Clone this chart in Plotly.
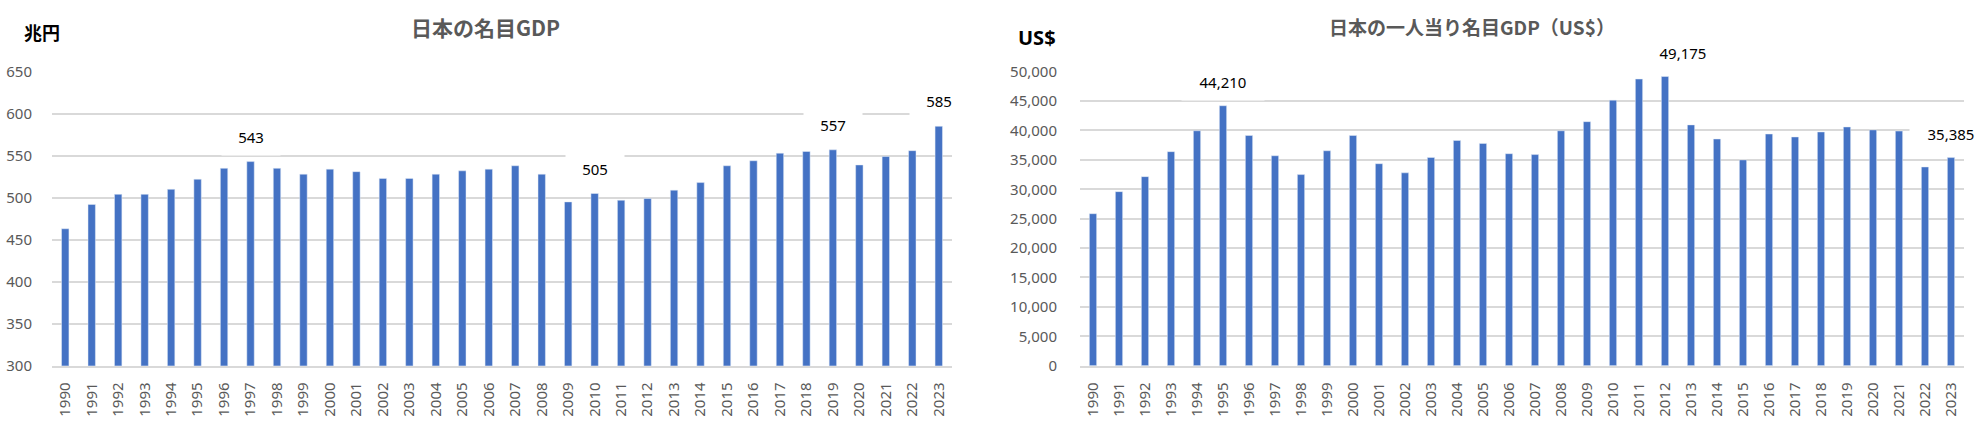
import plotly.graph_objects as go

years = [str(y) for y in range(1990, 2024)]

gdp_trillion_yen = [463, 492, 504, 504, 510, 522, 535, 543, 535, 528,
                    534, 531, 523, 523, 528, 532, 534, 538, 528, 495,
                    505, 497, 499, 509, 518, 538, 544, 553, 555, 557,
                    539, 549, 556, 585]

gdp_per_capita_usd = [25850, 29600, 32150, 36400, 39950, 44210, 39150, 35700, 32500, 36550,
                      39150, 34350, 32800, 35400, 38300, 37800, 36050, 35900, 39950, 41500,
                      45150, 48750, 49175, 40950, 38550, 35000, 39400, 38900, 39750, 40600,
                      40100, 39900, 33800, 35385]

left_label_years = ["1997", "2010", "2019", "2023"]
right_label_years = ["1995", "2012", "2023"]

W, H = 1988, 424
BAR = "#4472C4"
GRID = "#D9D9D9"
TICK = "#595959"
NUMFONT = "Noto Sans, Liberation Sans, Arial, sans-serif"
CJK = "Noto Sans CJK JP, Noto Sans, sans-serif"

fig = go.Figure()
fig.add_trace(go.Bar(x=years, y=gdp_trillion_yen, marker_color=BAR, xaxis="x", yaxis="y",
                     hoverinfo="x+y"))
fig.add_trace(go.Bar(x=years, y=gdp_per_capita_usd, marker_color=BAR, xaxis="x2", yaxis="y2",
                     hoverinfo="x+y"))

ydom = [(H - 365.7) / H, (H - 71.2) / H]

common_x = dict(type="category", tickangle=-90, showgrid=False, showline=True,
                linecolor=GRID, linewidth=1.5, ticks="outside", ticklen=9,
                tickcolor="rgba(0,0,0,0)", tickfont=dict(family=NUMFONT, size=15, color=TICK),
                zeroline=False, fixedrange=True, automargin=False)
common_y = dict(showgrid=True, gridcolor=GRID, gridwidth=1.5, zeroline=False, showline=False,
                ticks="outside", tickcolor="rgba(0,0,0,0)", automargin=False,
                tickfont=dict(family=NUMFONT, size=15, color=TICK), fixedrange=True)

fig.update_layout(
    width=W, height=H,
    margin=dict(l=0, r=0, t=0, b=0, pad=0, autoexpand=False),
    paper_bgcolor="white", plot_bgcolor="white",
    showlegend=False, bargap=0.72,
    xaxis=dict(domain=[52 / W, 952 / W], anchor="y", range=[-0.5, len(years) - 0.5], **common_x),
    yaxis=dict(domain=ydom, anchor="x", range=[300, 650.6], dtick=50, ticklen=16, **common_y),
    xaxis2=dict(domain=[1080 / W, 1964 / W], anchor="y2", range=[-0.5, len(years) - 0.5], **common_x),
    yaxis2=dict(domain=ydom, anchor="x2", range=[0, 50080], dtick=5000, tickformat=",d",
                ticklen=19, **common_y),
)

annotations = []
# Titles and unit labels
annotations.append(dict(xref="paper", yref="paper", x=485 / W, y=1 - 27 / H,
                        xanchor="center", yanchor="middle",
                        text="<b>日本の名目GDP</b>", showarrow=False,
                        font=dict(family=CJK, size=21, color=TICK)))
annotations.append(dict(xref="paper", yref="paper", x=1472 / W, y=1 - 27 / H,
                        xanchor="center", yanchor="middle",
                        text="<b>日本の一人当り名目GDP（US$）</b>", showarrow=False,
                        font=dict(family=CJK, size=19, color=TICK)))
annotations.append(dict(xref="paper", yref="paper", x=22 / W, y=1 - 32 / H,
                        xanchor="left", yanchor="middle",
                        text="<b>兆円</b>", showarrow=False,
                        font=dict(family=CJK, size=18, color="black")))
annotations.append(dict(xref="paper", yref="paper", x=1016 / W, y=1 - 37 / H,
                        xanchor="left", yanchor="middle",
                        text="<b>US$</b>", showarrow=False,
                        font=dict(family=NUMFONT, size=20, color="black")))

# Data labels (x given as category serial number)
for yr in left_label_years:
    i = years.index(yr)
    v = gdp_trillion_yen[i]
    annotations.append(dict(xref="x", yref="y", x=i, y=v, text=f"{v:d}", showarrow=False,
                            yshift=25, bgcolor="white", width=56, height=34,
                            font=dict(family=NUMFONT, size=15, color="black")))
for yr in right_label_years:
    i = years.index(yr)
    v = gdp_per_capita_usd[i]
    annotations.append(dict(xref="x2", yref="y2", x=i, y=v, text=f"{v:,d}", showarrow=False,
                            yshift=24, xshift=18 if yr == "2012" else 0,
                            bgcolor="white", width=80, height=34,
                            font=dict(family=NUMFONT, size=15, color="black")))

fig.update_layout(annotations=annotations)

fig.write_html("out.html", config={"displayModeBar": False},
               post_script="document.body.style.margin='0';")
